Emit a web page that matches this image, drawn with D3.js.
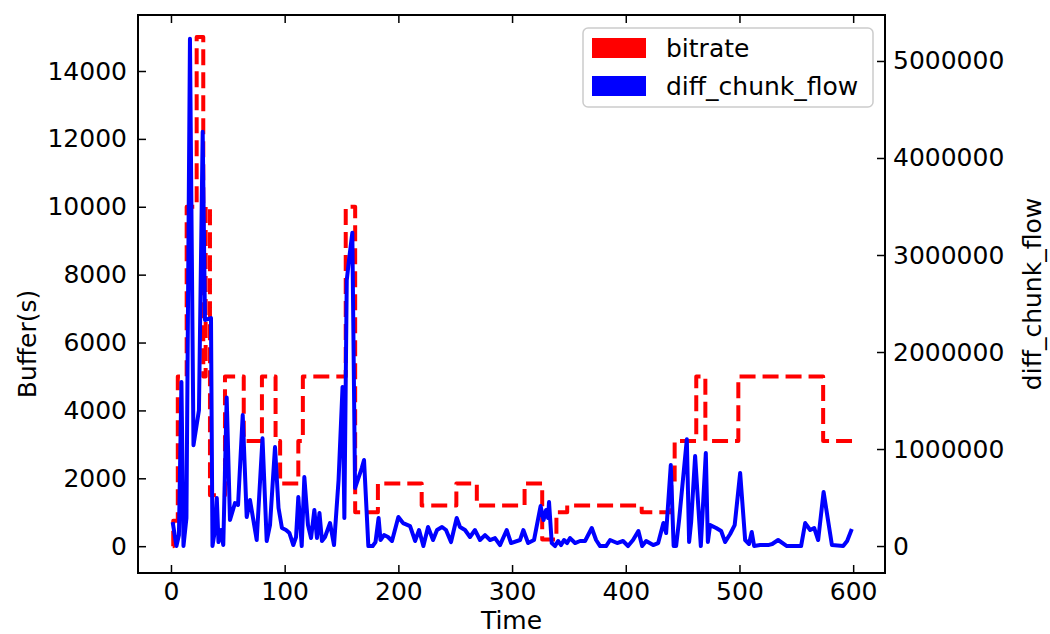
<!DOCTYPE html>
<html>
<head>
<meta charset="utf-8">
<script src="https://cdn.jsdelivr.net/npm/d3@7"></script>
<style>
  html, body { margin: 0; padding: 0; background: #fff; }
  svg text { font-family: "DejaVu Sans", sans-serif; fill: #000; }
</style>
</head>
<body>
<div id="chart"></div>
<script>
// bitrate (left axis), step-after
var bitrateTime = [1.5, 2, 6, 13.8, 22.6, 28.4, 30.5, 34.3, 47.5, 64, 80, 92, 96, 112, 116, 153.7, 162, 182, 220.5, 251, 269, 311, 326.5, 339, 348.5, 414, 440, 443, 462, 470, 499, 573.6, 599];
var bitrate = [0, 750, 5000, 10000, 15000, 5000, 10000, 1500, 5000, 3100, 5000, 3100, 1850, 3100, 5000, 10000, 1000, 1850, 1200, 1850, 1200, 1850, 200, 1000, 1200, 1000, 1850, 3100, 5000, 3100, 5000, 3100, 3100];

// diff_chunk_flow (right axis)
var chunkTime = [1.5, 4.8, 7, 9.2, 11, 13.6, 16.7, 19.8, 24.6, 27.9,
  29.9, 35.2, 36.5, 38.7, 40.3, 41.8, 44, 46, 49, 51.9,
  56.3, 59, 63.1, 66.6, 69.5, 75.4, 80.5, 84.2, 87.1, 91.5,
  94.6, 97.6, 101.2, 104.2, 107.6, 110, 112, 115, 117.3, 120.5,
  123.2, 126.1, 128.4, 130.6, 132.8, 135.5, 139.9, 143.4, 147.4, 150.9,
  152.5, 154.6, 156.6, 159.5, 161.9, 167.8, 169.8, 173.6, 177.4, 179.9,
  182.6, 184.3, 187.4, 190.9, 194.4, 200, 204.1, 210.3, 214.7, 218.2,
  222, 226.1, 230.5, 234, 238.4, 241.9, 246.3, 251.3, 254.2, 258.6,
  263, 267.4, 271.8, 276.2, 280.6, 285, 289.4, 295.3, 299.1, 307,
  309.9, 314.1, 319.3, 325.1, 327.7, 329.9, 331.7, 332.5, 334.9, 337.8,
  340.5, 343.1, 345.7, 348.4, 351, 355.4, 359.8, 364.2, 370.1, 373.9,
  377.4, 382.7, 386.2, 392.4, 397.6, 402, 406.4, 411.1, 414.4, 417.9,
  424.1, 428.5, 433.1, 435.5, 439.6, 442.1, 444.3, 446.9, 453.7, 455.7,
  457.5, 461, 466, 470.4, 472.2, 474.2, 479.5, 483.9, 487.4, 491.8,
  495.8, 500.6, 505, 508.4, 510.8, 512.9, 518.2, 525.2, 528.8, 534,
  541.7, 549, 554.2, 557.8, 562.2, 565.7, 569.2, 574, 581.3, 591.2,
  594.7, 598.8];
var chunkFlow = [247000, 0, 113000, 1690000, 0, 289000, 5230000, 1040000, 1400000, 4270000,
  2330000, 2350000, 0, 165000, 495000, 41000, 165000, 10000, 1530000, 268000,
  443000, 423000, 1350000, 299000, 474000, 62000, 1110000, 52000, 216000, 1020000,
  392000, 186000, 165000, 134000, 10000, 93000, 505000, 0, 711000, 216000,
  82000, 371000, 82000, 340000, 52000, 93000, 237000, 10000, 680000, 1640000,
  289000, 2740000, 2950000, 3230000, 598000, 804000, 887000, 0, 0, 41000,
  289000, 62000, 113000, 93000, 52000, 299000, 237000, 206000, 52000, 165000,
  0, 196000, 62000, 165000, 196000, 165000, 41000, 289000, 196000, 165000,
  93000, 165000, 62000, 113000, 62000, 82000, 10000, 165000, 31000, 62000,
  165000, 31000, 62000, 412000, 268000, 371000, 289000, 454000, 31000, 0,
  52000, 10000, 62000, 31000, 82000, 31000, 52000, 52000, 186000, 62000,
  0, 0, 62000, 31000, 52000, 0, 62000, 155000, 0, 52000,
  10000, 31000, 237000, 134000, 835000, 0, 0, 268000, 1100000, 41000,
  247000, 928000, 0, 959000, 41000, 216000, 186000, 155000, 41000, 124000,
  216000, 753000, 62000, 21000, 144000, 0, 10000, 10000, 21000, 62000,
  0, 0, 0, 237000, 165000, 186000, 62000, 557000, 10000, 0,
  52000, 175000];

var xTicks = [0, 100, 200, 300, 400, 500, 600];
var leftTicks = [0, 2000, 4000, 6000, 8000, 10000, 12000, 14000];
var rightTicks = [0, 1000000, 2000000, 3000000, 4000000, 5000000];

var width = 1050, height = 634;
var plot = { left: 138, right: 885, top: 15, bottom: 573 };
var fontSize = 25;
var tickLen = 8;

var svg = d3.select('#chart').append('svg')
  .attr('width', width)
  .attr('height', height);

var x = d3.scaleLinear().domain([-29, 628]).range([plot.left, plot.right]);
var yL = d3.scaleLinear().domain([-790, 15650]).range([plot.bottom, plot.top]);
var yR = d3.scaleLinear().domain([-278000, 5474000]).range([plot.bottom, plot.top]);

svg.append('clipPath').attr('id', 'clip')
  .append('rect')
  .attr('x', plot.left).attr('y', plot.top)
  .attr('width', plot.right - plot.left)
  .attr('height', plot.bottom - plot.top);

var bitrateData = bitrateTime.map(function (t, i) { return { t: t, v: bitrate[i] }; });
var chunkData = chunkTime.map(function (t, i) { return { t: t, v: chunkFlow[i] }; });

var stepLine = d3.line()
  .x(function (d) { return x(d.t); })
  .y(function (d) { return yL(d.v); })
  .curve(d3.curveStepAfter);

var flowLine = d3.line()
  .x(function (d) { return x(d.t); })
  .y(function (d) { return yR(d.v); });

var g = svg.append('g').attr('clip-path', 'url(#clip)');

g.append('path')
  .datum(bitrateData)
  .attr('d', stepLine)
  .attr('fill', 'none')
  .attr('stroke', '#ff0000')
  .attr('stroke-width', 4)
  .attr('stroke-dasharray', '16,7')
  .attr('stroke-linejoin', 'round');

g.append('path')
  .datum(chunkData)
  .attr('d', flowLine)
  .attr('fill', 'none')
  .attr('stroke', '#0000ff')
  .attr('stroke-width', 4)
  .attr('stroke-linejoin', 'round');

// axes, ticks pointing inward
var xAxisB = d3.axisBottom(x).tickValues(xTicks).tickSizeInner(-tickLen).tickSizeOuter(0).tickPadding(9);
var xAxisT = d3.axisTop(x).tickValues(xTicks).tickSizeInner(-tickLen).tickSizeOuter(0).tickFormat('');
var yAxisL = d3.axisLeft(yL).tickValues(leftTicks).tickSizeInner(-tickLen).tickSizeOuter(0).tickPadding(11).tickFormat(d3.format('d'));
var yAxisR = d3.axisRight(yR).tickValues(rightTicks).tickSizeInner(-tickLen).tickSizeOuter(0).tickPadding(8).tickFormat(d3.format('d'));

function styleAxis(sel) {
  sel.select('.domain').remove();
  sel.selectAll('.tick line').attr('stroke', '#000').attr('stroke-width', 1.5);
  sel.selectAll('.tick text')
    .attr('font-family', '"DejaVu Sans", sans-serif')
    .attr('font-size', fontSize)
    .attr('fill', '#000');
}

svg.append('g').attr('transform', 'translate(0,' + plot.bottom + ')').call(xAxisB).call(styleAxis);
svg.append('g').attr('transform', 'translate(0,' + plot.top + ')').call(xAxisT).call(styleAxis);
svg.append('g').attr('transform', 'translate(' + plot.left + ',0)').call(yAxisL).call(styleAxis);
svg.append('g').attr('transform', 'translate(' + plot.right + ',0)').call(yAxisR).call(styleAxis);

// frame
svg.append('rect')
  .attr('x', plot.left).attr('y', plot.top)
  .attr('width', plot.right - plot.left)
  .attr('height', plot.bottom - plot.top)
  .attr('fill', 'none')
  .attr('stroke', '#000')
  .attr('stroke-width', 2);

// axis labels
svg.append('text')
  .attr('x', (plot.left + plot.right) / 2)
  .attr('y', 629)
  .attr('text-anchor', 'middle')
  .attr('font-size', fontSize)
  .text('Time');

svg.append('text')
  .attr('transform', 'translate(36,' + ((plot.top + plot.bottom) / 2 + 50) + ') rotate(-90)')
  .attr('text-anchor', 'middle')
  .attr('font-size', fontSize)
  .text('Buffer(s)');

svg.append('text')
  .attr('transform', 'translate(1041,' + ((plot.top + plot.bottom) / 2) + ') rotate(-90)')
  .attr('text-anchor', 'middle')
  .attr('font-size', fontSize)
  .text('diff_chunk_flow');

// legend
var legendItems = [
  { label: 'bitrate', color: '#ff0000' },
  { label: 'diff_chunk_flow', color: '#0000ff' }
];

var legend = svg.append('g').attr('transform', 'translate(583,28)');
legend.append('rect')
  .attr('width', 290).attr('height', 79)
  .attr('rx', 5).attr('ry', 5)
  .attr('fill', '#fff')
  .attr('fill-opacity', 0.8)
  .attr('stroke', '#cccccc')
  .attr('stroke-width', 1.5);

var li = legend.selectAll('.item')
  .data(legendItems)
  .enter().append('g')
  .attr('class', 'item')
  .attr('transform', function (d, i) { return 'translate(0,' + (10 + i * 38) + ')'; });

li.append('rect')
  .attr('x', 9).attr('y', 0)
  .attr('width', 54).attr('height', 20)
  .attr('fill', function (d) { return d.color; });

li.append('text')
  .attr('x', 83).attr('y', 19)
  .attr('font-size', fontSize)
  .text(function (d) { return d.label; });
</script>
</body>
</html>
